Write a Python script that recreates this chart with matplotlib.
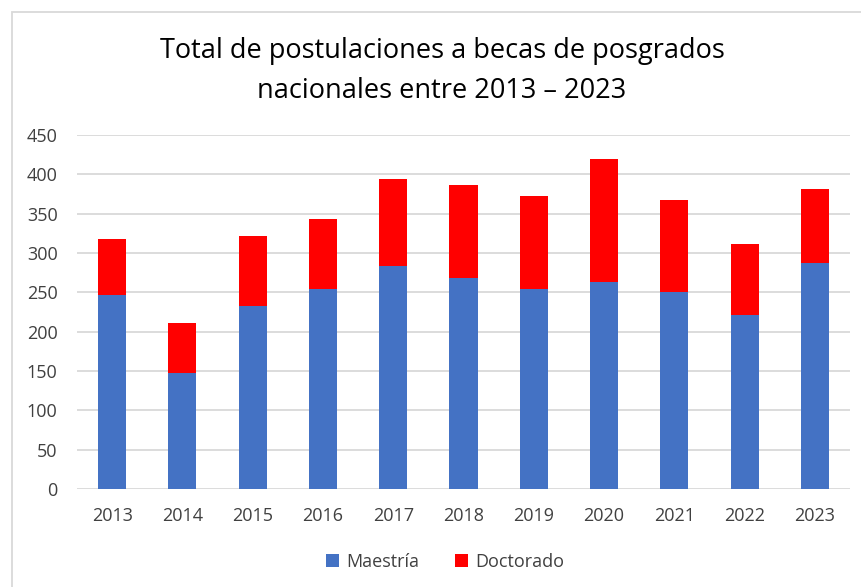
import matplotlib.pyplot as plt
from matplotlib.patches import Rectangle

# ---------------------------
# DATA
# ---------------------------
years = ["2013", "2014", "2015", "2016", "2017", "2018",
         "2019", "2020", "2021", "2022", "2023"]
maestria = [246, 147, 233, 254, 283, 268, 254, 263, 250, 221, 287]
totales = [318, 211, 322, 343, 394, 386, 372, 420, 368, 311, 381]
doctorado = [t - m for t, m in zip(totales, maestria)]

title = "Total de postulaciones a becas de posgrados\nnacionales entre 2013 – 2023"

# ---------------------------
# PLOT
# ---------------------------
plt.rcParams["font.family"] = ["Open Sans", "DejaVu Sans"]

fig = plt.figure(figsize=(8.62, 5.87), dpi=100)
ax = fig.add_axes([77 / 862, 1 - 489 / 587, (850 - 77) / 862, (489 - 135) / 587])

x = range(len(years))
ax.bar(x, maestria, width=0.4, color="#4472c4", label="Maestría", zorder=3)
ax.bar(x, doctorado, width=0.4, bottom=maestria, color="#ff0000",
       label="Doctorado", zorder=3)

ax.set_xlim(-0.5, len(years) - 0.5)
ax.set_ylim(0, 450)
ax.set_yticks(range(0, 451, 50))
ax.set_xticks(list(x))
ax.set_xticklabels(years)
ax.grid(axis="y", color="#d9d9d9", linewidth=1.3, zorder=0)
for s in ax.spines.values():
    s.set_visible(False)
ax.tick_params(length=0, labelsize=13, colors="#404040")
ax.tick_params(axis="x", pad=13)
ax.tick_params(axis="y", pad=14)

fig.text(442 / 862, 1 - 71 / 587, title, ha="center", va="center",
         fontsize=19.5, color="#000000", linespacing=1.55)

ax.legend(loc="center", bbox_to_anchor=(0.476, (489 - 562) / (489 - 135)),
          ncol=2, frameon=False, fontsize=13, handlelength=0.7,
          handleheight=0.7, columnspacing=2.0, handletextpad=0.4,
          labelcolor="#404040")

# chart border (only top/left visible in the crop)
fig.patches.append(Rectangle((12 / 862, -0.1), 1.2, 1 - 12 / 587 + 0.1,
                             transform=fig.transFigure, fill=False,
                             edgecolor="#d9d9d9", linewidth=1.3))

fig.savefig("out.png", dpi=100)
